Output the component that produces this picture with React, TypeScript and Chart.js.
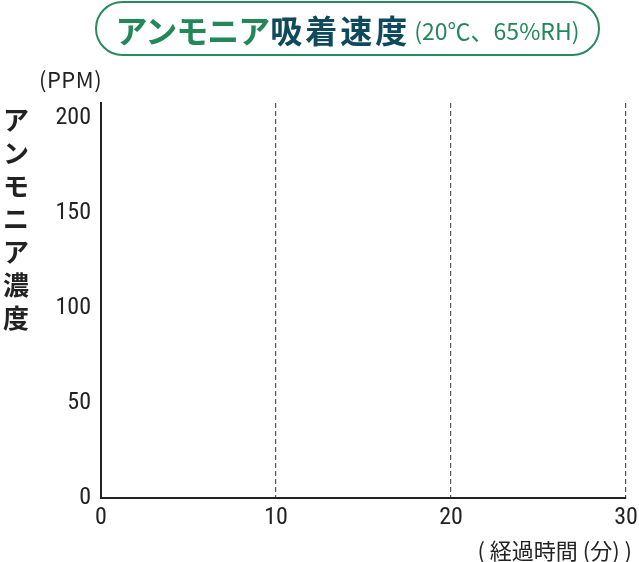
import React, { useEffect, useRef } from 'react';
import { Chart, registerables } from 'chart.js';

Chart.register(...registerables);

// axis ranges and ticks
const xTicks = [0, 10, 20, 30];
const yTicks = [0, 50, 100, 150, 200];
const yMax = 208;
// the reference shows no measured curve yet
const series: { x: number; y: number }[] = [];

const titleGreen = 'アンモニア';
const titleNavy = '吸着速度';
const titleNote = '(20℃、65%RH)';
const yUnit = '(PPM)';
const yTitle = 'アンモニア濃度';
const xTitle = '( 経過時間 (分) )';

const numFont = '"Liberation Sans Narrow", "Roboto Condensed", "DejaVu Sans Condensed", Roboto, sans-serif';
const jpFont = '"Noto Sans CJK JP", "Noto Sans", sans-serif';

const App: React.FC = () => {
  const chartRef = useRef<HTMLCanvasElement>(null);
  const chartInstance = useRef<Chart>();

  useEffect(() => {
    if (!chartRef.current) return;
    const ctx = chartRef.current.getContext('2d');
    if (!ctx) return;
    if (chartInstance.current) chartInstance.current.destroy();

    chartInstance.current = new Chart(ctx, {
      type: 'scatter',
      data: {
        datasets: [
          {
            label: 'NH3',
            data: series,
            borderColor: '#2a8a5e',
            backgroundColor: '#2a8a5e',
            showLine: true,
          },
        ],
      },
      options: {
        animation: false,
        responsive: true,
        maintainAspectRatio: false,
        layout: { padding: { top: 103, right: 0, bottom: 0, left: 0 } },
        plugins: { legend: { display: false }, tooltip: { enabled: false } },
        scales: {
          x: {
            type: 'linear',
            min: xTicks[0],
            max: xTicks[xTicks.length - 1],
            afterBuildTicks: (scale) => {
              scale.ticks = xTicks.map((v) => ({ value: v }));
            },
            afterFit: (scale) => {
              scale.height = 64;
              scale.paddingRight = 13;
            },
            ticks: {
              color: '#222',
              padding: 6,
              font: { family: numFont, size: 24 },
            },
            grid: {
              drawTicks: false,
              color: (c) => (c.tick && c.tick.value === 0 ? 'rgba(0,0,0,0)' : '#555'),
              lineWidth: 1.2,
            },
            border: { display: true, color: '#222', width: 2, dash: [5, 3] },
          },
          y: {
            type: 'linear',
            min: 0,
            max: yMax,
            afterBuildTicks: (scale) => {
              scale.ticks = yTicks.map((v) => ({ value: v }));
            },
            afterFit: (scale) => {
              scale.width = 101;
            },
            ticks: {
              color: '#222',
              padding: 10,
              font: { family: numFont, size: 24 },
            },
            grid: { display: false, drawTicks: false },
            border: { display: true, color: '#222', width: 2 },
          },
        },
      },
    });

    return () => {
      if (chartInstance.current) {
        chartInstance.current.destroy();
        chartInstance.current = undefined;
      }
    };
  }, []);

  return (
    <div style={{ position: 'fixed', left: 0, top: 0, width: 639, height: 562, background: '#fff' }}>
      <canvas ref={chartRef} />
      <div
        style={{
          position: 'absolute',
          left: 95,
          top: 1,
          width: 505,
          height: 55,
          boxSizing: 'border-box',
          border: '2px solid #2a8a5e',
          borderRadius: 28,
          display: 'flex',
          alignItems: 'center',
          justifyContent: 'center',
          fontFamily: jpFont,
          whiteSpace: 'nowrap',
        }}
      >
        <span style={{ color: '#23875a', fontWeight: 700, fontSize: 32, letterSpacing: -1 }}>{titleGreen}</span>
        <span style={{ color: '#0f4a5c', fontWeight: 700, fontSize: 32, letterSpacing: 3, marginLeft: 1 }}>{titleNavy}</span>
        <span style={{ color: '#23875a', fontSize: 23, marginLeft: 4, marginTop: 3 }}>{titleNote}</span>
      </div>
      <div
        style={{
          position: 'absolute',
          left: 39,
          top: 62,
          fontFamily: jpFont,
          fontSize: 22,
          letterSpacing: 0.5,
          color: '#222',
        }}
      >
        {yUnit}
      </div>
      <div
        style={{
          position: 'absolute',
          left: 3,
          top: 102,
          width: 27,
          fontFamily: jpFont,
          fontSize: 26,
          fontWeight: 700,
          lineHeight: '33px',
          color: '#222',
          wordBreak: 'break-all',
        }}
      >
        {yTitle}
      </div>
      <div
        style={{
          position: 'absolute',
          right: 7,
          top: 533,
          fontFamily: jpFont,
          fontSize: 22,
          color: '#222',
          whiteSpace: 'nowrap',
        }}
      >
        {xTitle}
      </div>
    </div>
  );
};

export default App;
